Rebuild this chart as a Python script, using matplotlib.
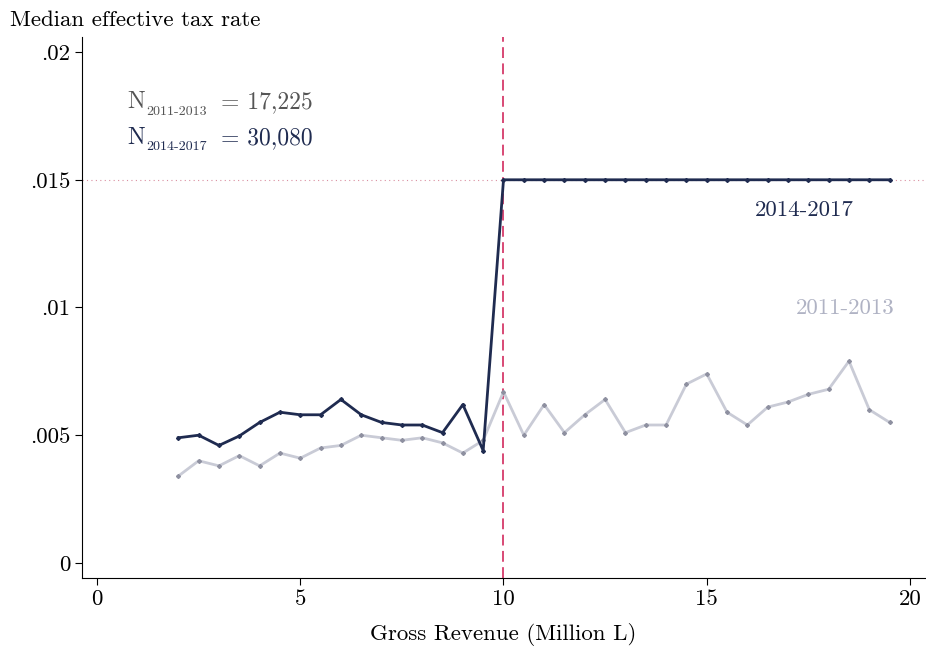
import matplotlib
matplotlib.use("Agg")
import matplotlib.pyplot as plt
import numpy as np

x_dark = [2,2.5,3,3.5,4,4.5,5,5.5,6,6.5,7,7.5,8,8.5,9,9.5,10,10.5,11,11.5,12,12.5,13,13.5,14,14.5,15,15.5,16,16.5,17,17.5,18,18.5,19,19.5]
y_dark = [.0049,.0050,.0046,.00497,.0055,.0059,.0058,.0058,.0064,.0058,.0055,.0054,.0054,.0051,.0062,.0044] + [.015]*20
x_light = x_dark
y_light = [.0034,.0040,.0038,.0042,.0038,.0043,.0041,.0045,.0046,.0050,.0049,.0048,.0049,.0047,.0043,.0048,
           .0067,.0050,.0062,.0051,.0058,.0064,.0051,.0054,.0054,.0070,.0074,.0059,.0054,.0061,.0063,.0066,.0068,.0079,.0060,.0055]
yticks = [0,.005,.01,.015,.02]
yticklabels = ["0",".005",".01",".015",".02"]
xticks = [0,5,10,15,20]

plt.rcParams['font.family'] = ['cmr10', 'DejaVu Serif']
plt.rcParams['mathtext.fontset'] = 'cm'
plt.rcParams['axes.unicode_minus'] = False
fig = plt.figure(figsize=(9.26,6.57), dpi=100)
ax = fig.add_axes([82/926, 1-578/657, (925-82)/926, (578-37)/657])
dark = '#1f2b50'; light = '#c9cbd6'
ax.axhline(.015, color='#d98fa0', ls=(0,(1,3)), lw=0.8)
ax.axvline(10, color='#d63a6a', ls=(0,(6,3)), lw=1.3)
ax.plot(x_light, y_light, color=light, lw=2, marker='D', ms=2, mfc='#8e90a0', mec='#8e90a0')
ax.plot(x_dark, y_dark, color=dark, lw=2, marker='D', ms=2)
ax.set_xlim(-0.37, 20.37); ax.set_ylim(-0.00059, .02059)
ax.set_yticks(yticks); ax.set_yticklabels(yticklabels)
ax.set_xticks(xticks)
for s in ['top','right']: ax.spines[s].set_visible(False)
ax.tick_params(labelsize=16.5, length=5)
ax.set_xlabel('Gross Revenue (Million L)', fontsize=16.5, labelpad=10)
fig.text(10/926, 1-20/657, 'Median effective tax rate', fontsize=16.5, va='center')
for y, sub, val, c in [(.0178, '2011-2013', '= 17,225', '#555555'), (.0164, '2014-2017', '= 30,080', dark)]:
    ax.text(0.75, y, 'N', fontsize=17, color=c)
    ax.text(1.2, y - .00025, sub, fontsize=10, color=c)
    ax.text(3.05, y, val, fontsize=17, color=c)
ax.text(17.4, .0136, '2014-2017', fontsize=16.5, color=dark, ha='center')
ax.text(18.4, .00975, '2011-2013', fontsize=16.5, color='#b0b3c4', ha='center')
fig.savefig('out.png', dpi=100)
